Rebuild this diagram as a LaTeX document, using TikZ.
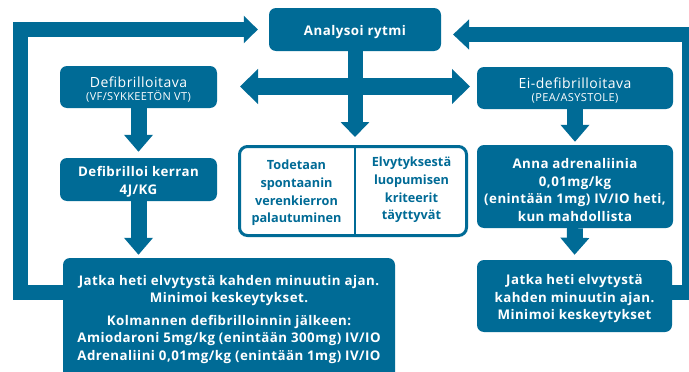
\documentclass[tikz,border=0pt]{standalone}
\usepackage{fontspec}
\setmainfont{Open Sans}
\newfontfamily\trackfont[LetterSpace=3.5]{Open Sans}
\usetikzlibrary{arrows.meta}
\definecolor{cblue}{RGB}{0,107,150}
\begin{document}
\begin{tikzpicture}[x=1pt,y=-1pt,
  boxshape/.style={fill=cblue, rounded corners=7pt, inner sep=0pt},
  boxtext/.style={text=white, align=center, inner sep=0pt,
    font=\trackfont\bfseries\fontsize{13.3}{17.5}\selectfont},
  headtext/.style={text=white, align=center, inner sep=0pt,
    font=\trackfont\fontsize{14}{17}\selectfont},
  midtext/.style={text=cblue, align=center, inner sep=0pt, font=\bfseries\fontsize{12.7}{17.7}\selectfont},
  varrow/.style={draw=cblue, line width=16pt, -{Triangle[width=28pt,length=17pt]}},
  loopline/.style={draw=cblue, line width=15pt, line join=miter},
]
\useasboundingbox (0,0) rectangle (689,372);
\fill[white] (0,0) rectangle (689,372);
\clip (0,0) rectangle (689,372);

% boxes
\node[boxshape, minimum width=172pt, minimum height=43pt] (analysoi) at (355,29.5) {};
\node[boxshape, minimum width=157pt, minimum height=42pt] (defib) at (138.5,87) {};
\node[boxshape, minimum width=157pt, minimum height=43pt] (defibk) at (138.5,179.5) {};
\node[boxshape, minimum width=332pt, minimum height=122pt] (jatkaL) at (229,319) {};
\node[boxshape, minimum width=196pt, minimum height=42pt] (ei) at (575,88) {};
\node[boxshape, minimum width=196pt, minimum height=83pt] (anna) at (575,186.5) {};
\node[boxshape, minimum width=195pt, minimum height=72pt] (jatkaR) at (574.5,296) {};
\node[draw=cblue, line width=3pt, rounded corners=8pt, minimum width=227pt, minimum height=89pt,
  inner sep=0pt] (mid) at (353,191) {};

% texts
\node[boxtext] (analysoiT) at ([yshift=-2.5pt]analysoi.center) {Analysoi rytmi};
\node[headtext] (defibT) at ([yshift=-2.5pt]defib.center)
  {Defibrilloitava\\[-4pt]{\fontsize{11}{11}\selectfont (VF/SYKKEETÖN VT)}};
\node[boxtext] (defibkT) at ([yshift=-2.5pt]defibk.center) {Defibrilloi kerran\\4J/KG};
\node[boxtext] (jatkaLT) at ([yshift=-0.5pt]jatkaL.center)
  {Jatka heti elvytystä kahden minuutin ajan.\\Minimoi keskeytykset.\\[5pt]
   Kolmannen defibrilloinnin jälkeen:\\Amiodaroni 5mg/kg (enintään 300mg) IV/IO\\
   Adrenaliini 0,01mg/kg (enintään 1mg) IV/IO};
\node[headtext] (eiT) at ([yshift=-2.5pt]ei.center)
  {Ei-defibrilloitava\\[-4pt]{\fontsize{11}{11}\selectfont (PEA/ASYSTOLE)}};
\node[boxtext] (annaT) at ([yshift=-3.5pt]anna.center)
  {Anna adrenaliinia\\0,01mg/kg\\(enintään 1mg) IV/IO heti,\\kun mahdollista};
\node[boxtext] (jatkaRT) at ([yshift=-3pt]jatkaR.center)
  {Jatka heti elvytystä\\kahden minuutin ajan.\\Minimoi keskeytykset};

\coordinate (divT) at (355,146.5);
\coordinate (divB) at (355,235.5);
\draw[cblue, line width=2.5pt] (divT) -- (divB);
\node[midtext] (midL) at (296.5,193) {Todetaan\\spontaanin\\verenkierron\\palautuminen};
\node[midtext] (midR) at (411.5,190) {Elvytyksestä\\luopumisen\\kriteerit\\täyttyvät};

% arrows
\draw[varrow, shorten >=6pt] (defib.south) -- (defibk.north);
\draw[varrow, shorten >=3pt] (defibk.south) -- (defibk.south |- jatkaL.north);
\draw[varrow, shorten >=3pt] (ei.south) -- (anna.north);
\draw[varrow, shorten >=5pt] (anna.south) -- (jatkaR.north);
\draw[draw=cblue, line width=15pt, -{Triangle[width=28pt,length=15pt]}, shorten >=8pt]
  (analysoi.south) -- (analysoi.south |- mid.north);

\coordinate (hL) at (240,86.5);
\coordinate (hR) at (470,86.5);
\draw[draw=cblue, line width=17pt, {Triangle[width=34pt,length=18pt]}-{Triangle[width=34pt,length=18pt]}]
  (hL) -- (hR);

% loops
\coordinate (yL) at (0,292.5);
\coordinate (cL) at (20.5,29.5);
\draw[loopline, -{Triangle[width=27pt,length=14pt]}, shorten >=11pt]
  (jatkaL.west |- yL) -| (cL) -- (analysoi.west);
\coordinate (yR) at (0,292.5);
\coordinate (cR) at (689.5,34.5);
\coordinate (tipR) at (453,34.5);
\draw[loopline, -{Triangle[width=29pt,length=16pt]}]
  (jatkaR.east |- yR) -| (cR) -- (tipR);
\end{tikzpicture}
\end{document}
